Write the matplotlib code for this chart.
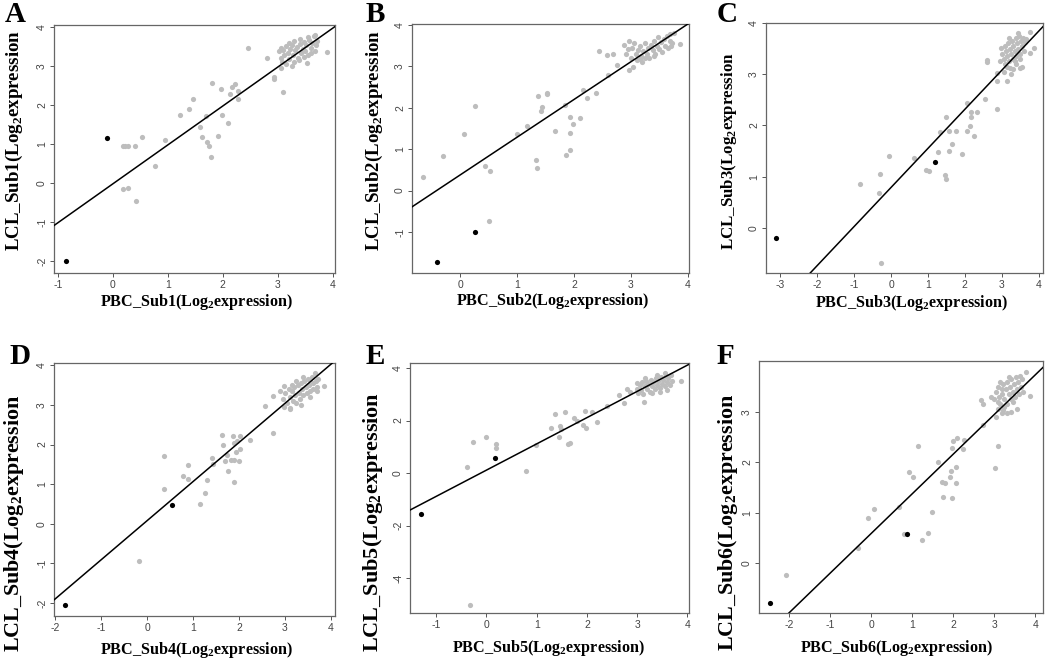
import matplotlib
matplotlib.use("Agg")
import matplotlib.pyplot as plt

plt.rcParams['mathtext.fontset'] = 'custom'
plt.rcParams['mathtext.rm'] = 'Liberation Serif:bold'

# ---------------- data ----------------
panel_letters = ["A", "B", "C", "D", "E", "F"]
subsets = ["Sub1", "Sub2", "Sub3", "Sub4", "Sub5", "Sub6"]

# Panel A
a_gray_x = [2.45, 2.80, 2.93, 2.93, 3.05, 3.10, 3.53, 3.89, 1.80, 1.96, 2.13, 2.16, 2.22, 2.27, 2.28, 1.45, 1.38,
            1.22, 1.69, 1.98, 1.58, 2.09, 1.62, 1.71, 1.75, 1.78, 1.92, 0.95, 0.53, 0.18, 0.22, 0.27, 0.41, 0.77,
            0.19, 0.27, 0.43,
            3.02, 3.05, 3.08, 3.10, 3.12, 3.15, 3.18, 3.20, 3.22, 3.25, 3.27, 3.30, 3.32, 3.35, 3.37, 3.40, 3.42,
            3.45, 3.47, 3.50, 3.52, 3.55, 3.57, 3.60, 3.62, 3.65, 3.67, 3.70, 3.72, 3.15, 3.25, 3.38, 3.48, 3.60,
            3.05, 3.20, 3.40, 3.55, 3.30, 3.68]
a_gray_y = [3.46, 3.20, 2.73, 2.68, 2.95, 2.35, 3.08, 3.36, 2.57, 2.42, 2.30, 2.48, 2.55, 2.37, 2.16, 2.17, 1.91,
            1.74, 1.71, 1.75, 1.45, 1.55, 1.19, 1.06, 0.94, 0.68, 1.21, 1.11, 1.19, 0.96, 0.96, 0.96, 0.96, 0.45,
            -0.16, -0.12, -0.45,
            3.38, 3.22, 3.12, 3.42, 3.28, 3.52, 3.35, 3.18, 3.45, 3.55, 3.30, 3.10, 3.42, 3.50, 3.20, 3.58, 3.35,
            3.45, 3.62, 3.40, 3.55, 3.30, 3.68, 3.48, 3.60, 3.78, 3.40, 3.55, 3.65, 3.05, 3.00, 3.15, 3.25, 3.35,
            3.48, 3.60, 3.70, 3.75, 3.65, 3.80]
a_black_x = [-0.11, -0.85]
a_black_y = [1.17, -2.00]

# Panel B
b_gray_x = [-0.66, -0.30, 0.06, 0.25, 0.44, 0.52, 0.50, 1.00, 1.18, 1.33, 1.35, 1.36, 1.43, 1.42, 1.52, 1.52,
            1.67, 1.84, 1.86, 1.92, 1.93, 1.92, 1.98, 2.11, 2.15, 2.23, 2.38, 2.43, 2.58, 2.68, 2.60, 2.76,
            2.87, 2.96, 2.96, 3.03, 3.87, 3.69, 2.92, 2.95, 3.00, 3.02, 3.05, 3.08, 3.10, 3.12, 3.15, 3.18, 3.20,
            3.22, 3.25, 3.28, 3.30, 3.32, 3.35, 3.38, 3.40, 3.42, 3.45, 3.48, 3.50, 3.52, 3.55, 3.58, 3.60, 3.63,
            3.65, 3.68, 3.72, 3.75, 3.15, 3.25, 3.40, 3.70]
b_gray_y = [0.32, 0.83, 1.37, 2.03, 0.60, 0.48, -0.73, 1.37, 1.57, 0.74, 0.55, 2.28, 2.02, 1.92, 2.36, 2.33,
            1.43, 2.06, 0.86, 0.98, 1.78, 1.40, 1.61, 1.74, 2.43, 2.23, 2.35, 3.36, 3.26, 3.30, 2.79, 3.04,
            3.51, 3.60, 2.92, 2.99, 3.53, 3.78, 3.30, 3.42, 3.20, 3.45, 3.55, 3.30, 3.15, 3.40, 3.50, 3.25, 3.10,
            3.38, 3.55, 3.30, 3.45, 3.20, 3.52, 3.40, 3.60, 3.30, 3.50, 3.70, 3.42, 3.58, 3.35, 3.65, 3.50, 3.72,
            3.45, 3.60, 3.55, 3.80, 3.18, 3.20, 3.25, 3.48]
b_black_x = [0.25, -0.41]
b_black_y = [-0.99, -1.73]

# Panel C
c_gray_x = [-0.84, -0.30, -0.32, -0.05, -0.27, 0.62, 0.95, 1.02, 1.27, 1.32, 1.50, 1.47, 1.49, 1.58, 1.58, 1.64,
            1.76, 1.93, 2.05, 2.07, 2.15, 2.16, 2.16, 2.24, 2.32, 2.54, 2.59, 2.59, 2.86, 2.88, 2.88, 3.14, 3.22,
            3.49, 3.76, 3.87, 3.76,
            2.95, 3.00, 3.05, 3.08, 3.10, 3.12, 3.15, 3.18, 3.20, 3.22, 3.25, 3.28, 3.30, 3.32, 3.35, 3.38, 3.40,
            3.42, 3.45, 3.48, 3.50, 3.52, 3.55, 3.58, 3.60, 3.62, 3.65, 3.30, 3.40, 3.55, 3.05, 2.98, 3.20, 3.45,
            3.35, 3.50, 3.15, 3.25]
c_gray_y = [0.85, 1.06, 0.68, 1.40, -0.68, 1.37, 1.13, 1.12, 1.49, 1.87, 2.17, 1.04, 0.95, 1.89, 1.50, 1.64,
            1.89, 1.44, 2.43, 1.89, 1.98, 2.17, 2.27, 1.79, 2.26, 2.52, 3.28, 3.23, 2.32, 2.86, 3.02, 2.86, 3.13,
            3.13, 3.41, 3.52, 3.82,
            3.25, 3.40, 3.30, 3.55, 3.20, 3.45, 3.35, 3.60, 3.25, 3.50, 3.40, 3.65, 3.30, 3.55, 3.45, 3.70, 3.35,
            3.60, 3.50, 3.75, 3.40, 3.65, 3.55, 3.70, 3.45, 3.62, 3.68, 3.10, 3.20, 3.15, 3.05, 3.52, 3.70, 3.80,
            3.25, 3.30, 3.15, 3.00]
c_black_x = [-3.11, 1.19]
c_black_y = [-0.20, 1.29]

# Panel D
d_gray_x = [-0.18, 0.36, 0.36, 0.79, 0.89, 0.89, 1.14, 1.26, 1.30, 1.41, 1.43, 1.63, 1.66, 1.69, 1.74, 1.76,
            1.82, 1.87, 1.88, 1.89, 1.90, 1.94, 1.95, 1.99, 2.03, 2.03, 2.23, 2.56, 2.75, 2.75, 2.90, 2.99, 3.10,
            2.99, 3.86,
            2.95, 3.00, 3.05, 3.08, 3.10, 3.12, 3.15, 3.18, 3.20, 3.22, 3.25, 3.28, 3.30, 3.32, 3.35, 3.38, 3.40,
            3.42, 3.45, 3.48, 3.50, 3.52, 3.55, 3.58, 3.60, 3.62, 3.65, 3.68, 3.70, 3.72, 3.55, 3.70, 3.40, 3.25,
            3.15, 3.35]
d_gray_y = [-0.95, 1.72, 0.87, 1.20, 1.49, 1.14, 0.51, 0.78, 1.10, 1.66, 1.52, 2.23, 1.98, 1.59, 1.73, 1.32,
            1.62, 2.21, 2.03, 1.05, 1.62, 1.81, 2.09, 1.59, 2.21, 1.90, 2.11, 2.97, 3.22, 2.28, 3.36, 3.48, 2.91,
            2.95, 3.48,
            3.15, 3.30, 3.05, 3.40, 3.20, 2.92, 3.35, 3.10, 3.45, 3.25, 3.05, 3.50, 3.30, 3.15, 3.55, 3.40, 3.25,
            3.60, 3.45, 3.30, 3.65, 3.50, 3.35, 3.70, 3.55, 3.40, 3.80, 3.60, 3.45, 3.65, 3.20, 3.35, 3.70, 3.60,
            3.50, 3.00]
d_black_x = [-1.80, 0.54]
d_black_y = [-2.06, 0.48]

# Panel E
e_gray_x = [-0.38, -0.26, 0.00, 0.20, 0.20, 0.79, 0.99, -0.32, 1.28, 1.37, 1.44, 1.47, 1.49, 1.57, 1.62, 1.66,
            1.74, 1.80, 1.93, 1.97, 1.99, 2.10, 2.20, 2.40, 2.63, 2.73, 2.79, 2.86, 2.99, 3.13, 3.87,
            3.00, 3.02, 3.05, 3.08, 3.10, 3.12, 3.15, 3.18, 3.20, 3.22, 3.25, 3.28, 3.30, 3.32, 3.35, 3.38, 3.40,
            3.42, 3.45, 3.48, 3.50, 3.52, 3.55, 3.58, 3.60, 3.62, 3.65, 3.68, 3.70, 3.30, 3.45, 3.60, 3.15, 3.40,
            3.55]
e_gray_y = [0.24, 1.17, 1.36, 1.10, 0.95, 0.09, 1.08, -5.02, 1.70, 2.26, 1.37, 1.80, 1.68, 2.34, 1.10, 1.14,
            2.10, 1.97, 1.84, 2.37, 1.71, 2.31, 1.93, 2.57, 2.97, 2.67, 3.20, 3.10, 3.43, 2.69, 3.49,
            3.20, 3.05, 3.35, 3.15, 3.45, 3.00, 3.30, 3.50, 3.20, 3.40, 3.10, 3.55, 3.30, 3.45, 3.20, 3.60, 3.35,
            3.50, 3.25, 3.65, 3.40, 3.55, 3.30, 3.70, 3.45, 3.60, 3.35, 3.75, 3.50, 3.05, 3.10, 3.15, 3.60, 3.75,
            3.80]
e_black_x = [-1.30, 0.18]
e_black_y = [-1.56, 0.57]

# Panel F
f_gray_x = [-2.07, -0.33, -0.09, 0.07, 0.68, 0.80, 0.93, 1.01, 1.13, 1.23, 1.38, 1.49, 1.62, 1.73, 1.80, 1.75,
            1.92, 1.95, 1.96, 1.96, 2.00, 2.07, 2.07, 2.09, 2.23, 2.26, 2.68, 2.72, 2.72, 2.91, 3.02, 3.08, 3.04,
            3.18, 3.22, 3.56, 3.87, 3.77,
            3.00, 3.05, 3.08, 3.10, 3.12, 3.15, 3.18, 3.20, 3.22, 3.25, 3.28, 3.30, 3.32, 3.35, 3.38, 3.40, 3.42,
            3.45, 3.48, 3.50, 3.52, 3.55, 3.58, 3.60, 3.62, 3.65, 3.68, 3.70, 3.10, 3.25, 3.45, 3.30, 3.40, 3.15,
            3.35]
f_gray_y = [-0.23, 0.30, 0.89, 1.07, 1.12, 0.58, 1.81, 1.71, 2.32, 0.45, 0.59, 1.02, 2.01, 1.61, 1.58, 1.31,
            1.71, 1.82, 2.29, 1.30, 2.42, 1.58, 1.91, 2.49, 2.27, 2.44, 3.23, 3.16, 2.74, 3.30, 1.89, 2.32, 2.90,
            2.97, 3.03, 3.05, 3.31, 3.80,
            3.25, 3.40, 3.20, 3.50, 3.30, 3.15, 3.45, 3.35, 3.55, 3.25, 3.45, 3.15, 3.60, 3.35, 3.50, 3.25, 3.65,
            3.40, 3.55, 3.30, 3.70, 3.45, 3.60, 3.35, 3.72, 3.50, 3.65, 3.40, 3.05, 3.10, 3.20, 2.98, 3.00, 3.60,
            3.70]
f_black_x = [-2.48, 0.87]
f_black_y = [-0.80, 0.58]

# fitted line (intercept, slope) per panel
line_intercepts = [-0.02, 0.38, 0.79, 0.08, 0.11, 0.59]
line_slopes = [1.00, 0.91, 0.762, 0.987, 1.00, 0.786]

gray_xs = [a_gray_x, b_gray_x, c_gray_x, d_gray_x, e_gray_x, f_gray_x]
gray_ys = [a_gray_y, b_gray_y, c_gray_y, d_gray_y, e_gray_y, f_gray_y]
black_xs = [a_black_x, b_black_x, c_black_x, d_black_x, e_black_x, f_black_x]
black_ys = [a_black_y, b_black_y, c_black_y, d_black_y, e_black_y, f_black_y]

x_ticks = [[-1, 0, 1, 2, 3, 4], [0, 1, 2, 3, 4], [-3, -2, -1, 0, 1, 2, 3, 4],
           [-2, -1, 0, 1, 2, 3, 4], [-1, 0, 1, 2, 3, 4], [-2, -1, 0, 1, 2, 3, 4]]
y_ticks = [[-2, -1, 0, 1, 2, 3, 4], [-1, 0, 1, 2, 3, 4], [0, 1, 2, 3, 4],
           [-2, -1, 0, 1, 2, 3, 4], [-4, -2, 0, 2, 4], [0, 1, 2, 3]]

# ---------------- layout / style ----------------
W, H = 1050, 660
# axes boxes in pixels: left, right, top, bottom
boxes = [(54, 335, 25, 273), (412, 689, 24, 273), (766, 1043, 23, 273),
         (54, 335, 363, 616), (410, 689, 363, 613), (759, 1043, 361, 613)]
xlims = [(-1.07, 4.04), (-0.85, 4.02), (-3.39, 4.12), (-2.03, 4.09), (-1.52, 4.03), (-2.74, 4.19)]
ylims = [(-2.31, 4.06), (-1.99, 4.02), (-0.88, 4.0), (-2.33, 4.06), (-5.33, 4.19), (-0.99, 4.01)]
letter_pos = [(15, 14), (375, 14), (727, 14), (20, 356), (375, 356), (725, 357)]
xlabel_pos = [(196, 302), (552, 301), (911, 303), (196, 650), (548, 648), (896, 648)]
ylabel_pos = [(14, 141), (374, 141), (729, 151), (14, 523), (373, 522), (728, 522)]
ylabel_sizes = [13.6, 13.6, 12.2, 15.8, 16.0, 15.8]

fig = plt.figure(figsize=(W / 100, H / 100), dpi=100)
serif = ['Liberation Serif', 'DejaVu Serif']
sans = ['Liberation Sans', 'DejaVu Sans']

for i in range(6):
    l, r, t, b = boxes[i]
    ax = fig.add_axes([l / W, 1 - b / H, (r - l) / W, (b - t) / H])
    ax.scatter(gray_xs[i], gray_ys[i], s=14, color='#bdbdbd', linewidths=0, zorder=2)
    ax.scatter(black_xs[i], black_ys[i], s=14, color='black', linewidths=0, zorder=3)
    ax.axline((0, line_intercepts[i]), slope=line_slopes[i], color='black', lw=1.1, zorder=4)
    ax.set_xlim(*xlims[i])
    ax.set_ylim(*ylims[i])
    ax.set_xticks(x_ticks[i])
    ax.set_yticks(y_ticks[i])
    ax.set_xticklabels([str(v) for v in x_ticks[i]], family=sans, fontsize=7.5, color='#444444')
    ax.set_yticklabels([str(v) for v in y_ticks[i]], family=sans, fontsize=7.5, color='#444444',
                       rotation=90, va='center')
    ax.tick_params(length=3, width=0.7, color='#555555', pad=2)
    for sp in ax.spines.values():
        sp.set_color('#666666')
        sp.set_linewidth(0.9)

    fig.text(letter_pos[i][0] / W, 1 - letter_pos[i][1] / H, panel_letters[i],
             family=serif, fontweight='bold', fontsize=21, ha='center', va='center')
    fig.text(xlabel_pos[i][0] / W, 1 - xlabel_pos[i][1] / H,
             "PBC_" + subsets[i] + r"(Log$_{\mathregular{2}}$expression)",
             family=serif, fontweight='bold', fontsize=11.6, ha='center', va='center')
    fig.text(ylabel_pos[i][0] / W, 1 - ylabel_pos[i][1] / H,
             "LCL_" + subsets[i] + r"(Log$_{\mathregular{2}}$expression",
             family=serif, fontweight='bold', fontsize=ylabel_sizes[i], ha='center', va='center',
             rotation=90)

fig.savefig("out.png", dpi=100)
